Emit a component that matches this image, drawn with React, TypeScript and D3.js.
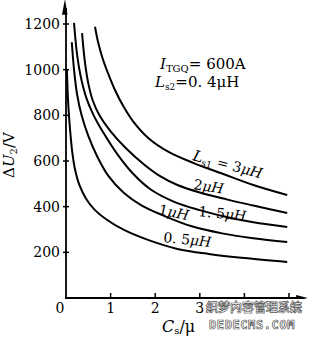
import { useEffect, useRef } from 'react';
import * as d3 from 'd3';

// tick values
const xTicks = [1, 2, 3, 4, 5];
const xTickLabels = [0, 1, 2, 3]; // 4 and 5 sit under the watermark
const yTicks = [200, 400, 600, 800, 1000, 1200];

// C_s (μF) and ΔU_2 (V)
const cs05 = [0.02, 0.05, 0.09, 0.14, 0.2, 0.3, 0.45, 0.65, 0.9, 1.3, 1.9, 2.5, 3.2, 4.0, 4.96];
const du05 = [1000, 850, 740, 640, 565, 495, 435, 385, 345, 298, 250, 215, 193, 175, 158];
const cs10 = [0.13, 0.18, 0.25, 0.35, 0.5, 0.7, 0.95, 1.3, 1.7, 2.2, 2.8, 3.5, 4.2, 4.96];
const du10 = [1120, 1000, 890, 800, 710, 620, 535, 460, 405, 360, 315, 283, 262, 245];
const cs15 = [0.18, 0.24, 0.32, 0.45, 0.62, 0.85, 1.15, 1.5, 1.9, 2.44, 3.0, 3.6, 4.2, 4.96];
const du15 = [1205, 1080, 980, 880, 800, 720, 630, 545, 475, 420, 385, 355, 332, 311];
const cs20 = [0.36, 0.42, 0.5, 0.6, 0.75, 1.0, 1.35, 1.75, 2.1, 2.5, 3.0, 3.6, 4.2, 4.96];
const du20 = [1160, 1040, 940, 865, 800, 730, 655, 585, 535, 495, 462, 432, 405, 372];
const cs30 = [0.65, 0.72, 0.82, 0.95, 1.1, 1.3, 1.5, 1.85, 2.3, 2.85, 3.5, 4.2, 4.96];
const du30 = [1188, 1120, 1050, 980, 910, 835, 775, 700, 640, 592, 545, 495, 451];

const seriesCs = [cs05, cs10, cs15, cs20, cs30];
const seriesDu = [du05, du10, du15, du20, du30];

const serif = "'DejaVu Serif', 'Liberation Serif', serif";

const App = () => {
  const svgRef = useRef<SVGSVGElement | null>(null);
  const width = 312;
  const height = 337;

  useEffect(() => {
    const svgElement = svgRef.current;
    if (!svgElement) return;
    const svg = d3.select(svgElement);
    svg.selectAll('*').remove();

    const x = d3.scaleLinear().domain([0, 5]).range([66, 289]);
    const y = d3.scaleLinear().domain([0, 1200]).range([298, 24]);

    // axes
    svg.append('line')
      .attr('x1', x(0) - 1).attr('x2', x(5.2))
      .attr('y1', y(0)).attr('y2', y(0))
      .attr('stroke', '#000').attr('stroke-width', 1.8);
    svg.append('path')
      .attr('d', `M${x(5.42)},${y(0)} L${x(5.16)},${y(0) - 3} L${x(5.16)},${y(0) + 3} Z`)
      .attr('fill', '#000');
    svg.append('line')
      .attr('x1', x(0)).attr('x2', x(0))
      .attr('y1', y(0)).attr('y2', y(1270))
      .attr('stroke', '#000').attr('stroke-width', 1.8);
    svg.append('path')
      .attr('d', `M${x(0) - 1},${y(1310)} L${x(0) - 4},${y(1240)} L${x(0) + 1.5},${y(1240)} Z`)
      .attr('fill', '#000');

    svg.append('g').selectAll('line')
      .data(yTicks).join('line')
      .attr('x1', x(0) - 3).attr('x2', x(0) + 3)
      .attr('y1', d => y(d)).attr('y2', d => y(d))
      .attr('stroke', '#000').attr('stroke-width', 1.5);
    svg.append('g').selectAll('text')
      .data(yTicks).join('text')
      .attr('x', x(0) - 6).attr('y', d => y(d) + 5)
      .attr('text-anchor', 'end')
      .attr('font-family', serif).attr('font-size', 14)
      .text(d => d);

    svg.append('g').selectAll('line')
      .data(xTicks).join('line')
      .attr('x1', d => x(d)).attr('x2', d => x(d))
      .attr('y1', y(0)).attr('y2', y(0) - 5)
      .attr('stroke', '#000').attr('stroke-width', 1.5);
    svg.append('g').selectAll('text')
      .data(xTickLabels).join('text')
      .attr('x', d => (d === 0 ? x(0) - 6 : x(d)))
      .attr('y', y(0) + 15)
      .attr('text-anchor', 'middle')
      .attr('font-family', serif).attr('font-size', 14)
      .text(d => d);

    // curves
    const line = d3.line<[number, number]>()
      .x(d => x(d[0]))
      .y(d => y(d[1]))
      .curve(d3.curveCatmullRom.alpha(0.5));

    svg.append('g').selectAll('path')
      .data(seriesCs.map((cs, i) => cs.map((c, j) => [c, seriesDu[i][j]] as [number, number])))
      .join('path')
      .attr('fill', 'none')
      .attr('stroke', '#000')
      .attr('stroke-width', 2)
      .attr('d', line);

    // axis titles
    const yt = svg.append('text')
      .attr('transform', 'translate(14,155) rotate(-90)')
      .attr('text-anchor', 'middle')
      .attr('font-family', serif).attr('font-size', 15);
    yt.append('tspan').text('Δ');
    yt.append('tspan').attr('font-style', 'italic').text('U');
    yt.append('tspan').attr('font-size', 10).attr('dy', 3).text('2');
    yt.append('tspan').attr('dy', -3).text('/V');

    const xt = svg.append('text')
      .attr('x', 162).attr('y', 332)
      .attr('font-family', serif).attr('font-size', 16);
    xt.append('tspan').attr('font-style', 'italic').text('C');
    xt.append('tspan').attr('font-size', 10).attr('dy', 2).text('s');
    xt.append('tspan').attr('dy', -2).text('/μ');

    // annotation
    const a1 = svg.append('text').attr('x', 160).attr('y', 69)
      .attr('font-family', serif).attr('font-size', 15);
    a1.append('tspan').attr('font-style', 'italic').text('I');
    a1.append('tspan').attr('font-size', 10).attr('dy', 3).text('TGQ');
    a1.append('tspan').attr('dy', -3).text('= 600A');
    const a2 = svg.append('text').attr('x', 155).attr('y', 87)
      .attr('font-family', serif).attr('font-size', 15);
    a2.append('tspan').attr('font-style', 'italic').text('L');
    a2.append('tspan').attr('font-size', 9).attr('dy', 3).text('s2');
    a2.append('tspan').attr('dy', -3).text('=0. 4μH');

    // curve labels
    const lab = (tx: number, ty: number, rot: number) =>
      svg.append('text')
        .attr('transform', `translate(${tx},${ty}) rotate(${rot})`)
        .attr('font-family', serif).attr('font-size', 14);
    const l3 = lab(192, 160, 15);
    l3.append('tspan').attr('font-style', 'italic').attr('font-size', 15).text('L');
    l3.append('tspan').attr('font-size', 9).attr('dy', 3).text('s1');
    l3.append('tspan').attr('dy', -3).text(' = 3');
    l3.append('tspan').attr('font-style', 'italic').text('μH');
    const l2 = lab(193, 189, 9);
    l2.append('tspan').text('2');
    l2.append('tspan').attr('font-style', 'italic').text('μH');
    const l15 = lab(198, 216, 6);
    l15.append('tspan').text('1. 5');
    l15.append('tspan').attr('font-style', 'italic').text('μH');
    const l1 = lab(158, 214, 12);
    l1.append('tspan').text('1');
    l1.append('tspan').attr('font-style', 'italic').text('μH');
    const l05 = lab(163, 242, 6);
    l05.append('tspan').text('0. 5');
    l05.append('tspan').attr('font-style', 'italic').text('μH');

    // watermark
    svg.append('rect').attr('x', 206).attr('y', 299).attr('width', 98).attr('height', 33).attr('fill', '#fff');
    svg.append('text').attr('x', 206).attr('y', 312)
      .attr('font-family', "'Noto Sans CJK SC', sans-serif").attr('font-size', 12).attr('font-weight', 'bold')
      .attr('fill', '#fff').attr('stroke', '#555').attr('stroke-width', 0.7)
      .text('织梦内容管理系统');
    svg.append('text').attr('x', 209).attr('y', 329)
      .attr('font-family', "'DejaVu Sans Mono', monospace").attr('font-size', 12).attr('font-weight', 'bold')
      .attr('letter-spacing', 0.6)
      .attr('fill', '#fff').attr('stroke', '#555').attr('stroke-width', 0.7)
      .text('DEDECMS.COM');
  }, []);

  return (
    <svg
      ref={svgRef}
      width={width}
      height={height}
      style={{ position: 'absolute', left: 0, top: 0, background: '#fff' }}
    />
  );
};

export default App;
